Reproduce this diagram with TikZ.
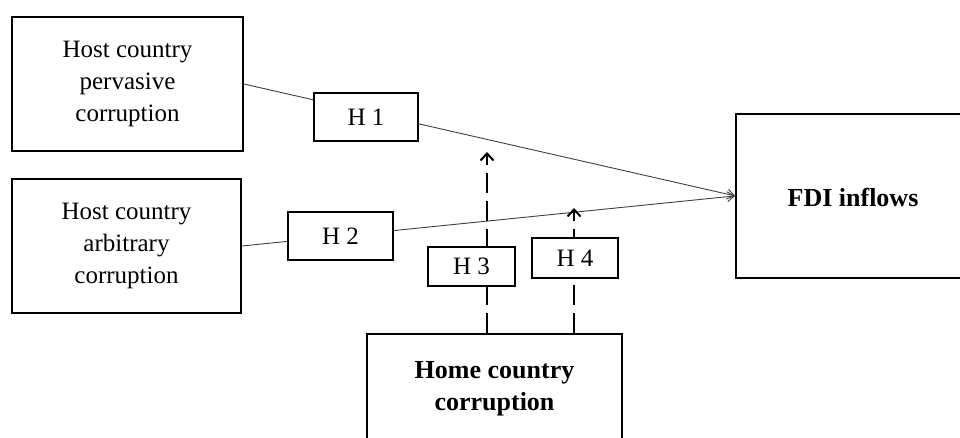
\documentclass[tikz,border=0pt]{standalone}
\usepackage{fontspec}
\setmainfont{Liberation Serif}
\usetikzlibrary{arrows.meta,backgrounds}
\begin{document}
\begin{tikzpicture}[x=1pt,y=-1pt,
  box/.style={draw=black,line width=1.8pt,fill=white,inner sep=0pt,align=center,
    font=\fontsize{25}{32}\selectfont},
  hbox/.style={draw=black,line width=1.6pt,fill=white,inner sep=0pt,
    font=\fontsize{25}{30}\selectfont},
  boldtext/.style={align=center,font=\fontsize{26}{32}\selectfont\bfseries},
  link/.style={draw=black!75,line width=0.9pt,-{Straight Barb[length=7pt,width=10pt,line width=0.9pt]}},
  dashlink/.style={draw=black,line width=2.4pt,dash pattern=on 20pt off 8pt,
    -{Straight Barb[length=7pt,width=13pt,line width=2pt]}}]
\useasboundingbox (0,0) rectangle (960,437);
\clip (0,0) rectangle (960,437);

\node[box,minimum width=231pt,minimum height=134pt] (b1) at (127.5,84) {Host country\\pervasive\\corruption};
\node[box,minimum width=229pt,minimum height=134pt] (b2) at (126.5,246) {Host country\\arbitrary\\corruption};
\node[box,minimum width=265pt,minimum height=164pt,anchor=north west] (fdi) at (735,113) {};
\node[boldtext] (fditext) at (853,197) {FDI inflows};
\node[box,minimum width=255pt,minimum height=174pt,anchor=north] (home) at (494.5,333) {};
\node[boldtext] (hometext) at (494.5,389) {Home country\\corruption};

\node[hbox,minimum width=104pt,minimum height=48pt] (h1) at (366,117) {H 1};
\node[hbox,minimum width=105pt,minimum height=48pt] (h2) at (340.5,236) {H 2};
\node[hbox,minimum width=87pt,minimum height=39pt] (h3) at (471.5,266.5) {H 3};
\node[hbox,minimum width=86pt,minimum height=40pt] (h4) at (575,258) {H 4};

\coordinate (t3) at (487,152);
\coordinate (t4) at (574,208);

\begin{scope}[on background layer]
\fill[white] (0,0) rectangle (960,437);
\draw[link] (b1.east) -- (fdi.west);
\draw[link] (b2.east) -- (fdi.west);
\draw[dashlink] (home.north -| t3) -- (t3);
\draw[dashlink] (home.north -| t4) -- (t4);
\end{scope}
\end{tikzpicture}
\end{document}
